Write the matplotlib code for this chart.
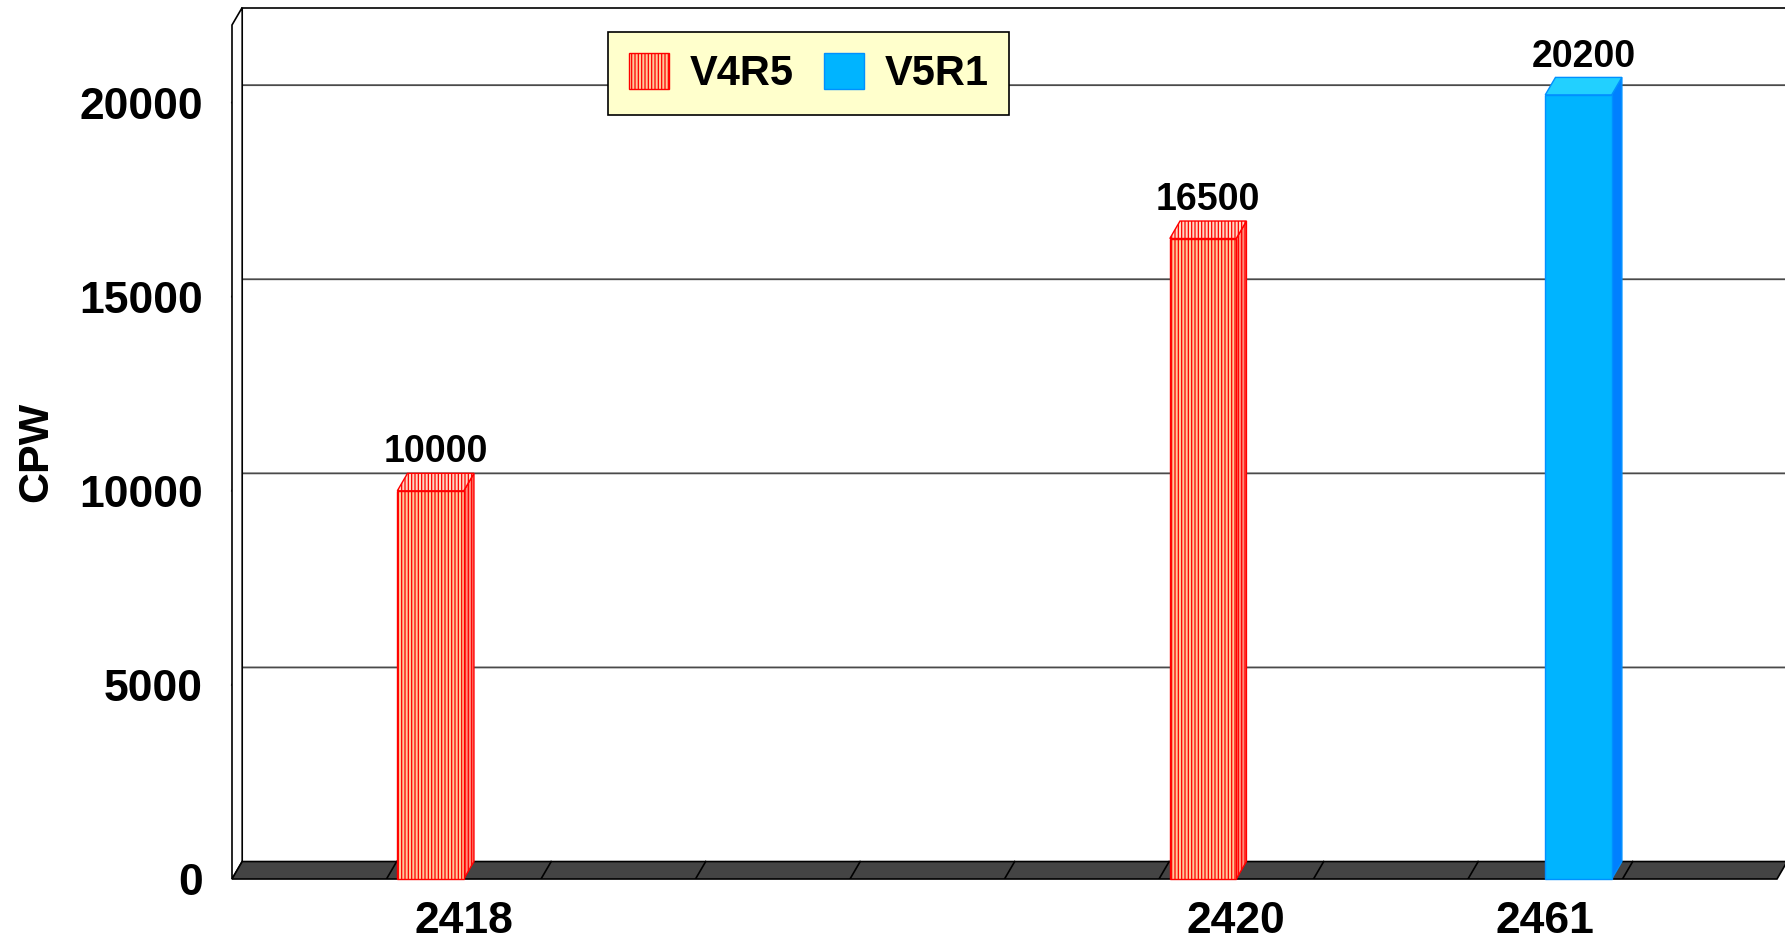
import matplotlib.pyplot as plt
from matplotlib.patches import Polygon, Patch

# data
categories = ['', '2418', '', '', '', '', '2420', '', '2461', '']
v4r5 = [None, 10000, None, None, None, None, 16500, None, None, None]
v5r1 = [None, None, None, None, None, None, None, None, 20200, None]
yticks = [0, 5000, 10000, 15000, 20000]
ymax = 22000

plt.rcParams['font.family'] = ['Liberation Sans', 'DejaVu Sans']
plt.rcParams['font.weight'] = 'bold'
plt.rcParams['hatch.linewidth'] = 0.9

fig = plt.figure(figsize=(17.85, 9.46), dpi=100)
ax = fig.add_axes([232 / 1785, 67 / 946, 1545 / 1785, 854 / 946])
n = len(categories)
ax.set_xlim(0, n)
ax.set_ylim(0, ymax)
ax.patch.set_visible(False)
for s in ax.spines.values():
    s.set_visible(False)

dx = 0.066   # depth offset in slot units
dy = 450     # depth offset in value units

# back wall
ax.add_patch(Polygon([(dx, dy), (n + dx, dy), (n + dx, ymax + dy), (dx, ymax + dy)],
                     closed=True, facecolor='white', edgecolor='black', lw=1.2,
                     clip_on=False, zorder=1))
# left wall
ax.add_patch(Polygon([(0, 0), (dx, dy), (dx, ymax + dy), (0, ymax)],
                     closed=True, facecolor='white', edgecolor='black', lw=1.2,
                     clip_on=False, zorder=2))
# gridlines
for v in yticks[1:]:
    ax.plot([0, dx, n + dx], [v, v + dy, v + dy], color='#4a4a4a', lw=1.3,
            clip_on=False, zorder=1.5)
# floor
ax.add_patch(Polygon([(0, 0), (n, 0), (n + dx, dy), (dx, dy)], closed=True,
                     facecolor='#444444', edgecolor='black', lw=1.2,
                     clip_on=False, zorder=3))
for i in range(1, n):
    ax.plot([i, i + dx], [0, dy], color='black', lw=1.2, zorder=3.1)


def bar3d(x0, x1, h, front, top, side, edge, hatch=None):
    ax.add_patch(Polygon([(x1, 0), (x1 + dx, dy), (x1 + dx, h + dy), (x1, h)],
                         closed=True, facecolor=side, edgecolor=edge, hatch=hatch,
                         lw=1, clip_on=False, zorder=4))
    ax.add_patch(Polygon([(x0, h), (x1, h), (x1 + dx, h + dy), (x0 + dx, h + dy)],
                         closed=True, facecolor=top, edgecolor=edge, hatch=hatch,
                         lw=1, clip_on=False, zorder=4))
    ax.add_patch(Polygon([(x0, 0), (x1, 0), (x1, h), (x0, h)],
                         closed=True, facecolor=front, edgecolor=edge, hatch=hatch,
                         lw=1, clip_on=False, zorder=5))
    ax.text((x0 + x1) / 2 + dx / 2, h + dy + 280, f'{h}', ha='center',
            va='baseline', fontsize=27, fontweight='bold', zorder=6)


gap = 0.07
for i in range(n):
    if v4r5[i] is not None:
        bar3d(i + gap, i + 0.5, v4r5[i], '#FFC89A', '#FFD8C4', '#FF8A78',
              'red', '|||||')
    if v5r1[i] is not None:
        bar3d(i + 0.5, i + 1 - gap, v5r1[i], '#00B4FF', '#22D0FF', '#0080FF',
              '#0090FF')

ax.set_yticks(yticks)
ax.set_yticklabels([str(t) for t in yticks], fontsize=32, fontweight='bold')
ax.set_xticks([i + 0.5 for i in range(n)])
ax.set_xticklabels(categories, fontsize=32, fontweight='bold')
ax.tick_params(axis='y', length=0, pad=21)
ax.tick_params(axis='x', length=0, pad=16)
ax.set_ylabel('CPW', fontsize=31, fontweight='bold')
ax.yaxis.set_label_coords(-0.114, 0.5)

handles = [Patch(facecolor='#FFC89A', edgecolor='red', hatch='|||||', lw=1),
           Patch(facecolor='#00B4FF', edgecolor='#0090FF', lw=1)]
leg = fig.legend(handles, ['V4R5', 'V5R1'], loc='upper left',
                 bbox_to_anchor=(608 / 1785, 1 - 32 / 946), ncol=2,
                 prop={'size': 30, 'weight': 'bold'}, frameon=True,
                 fancybox=False, facecolor='#FFFFCC', edgecolor='black',
                 framealpha=1, borderaxespad=0, borderpad=0.5,
                 handlelength=0.96, handleheight=0.96, handletextpad=0.5,
                 columnspacing=0.72)
leg.get_frame().set_linewidth(1.2)

fig.savefig('out.png', dpi=100, facecolor='white')
